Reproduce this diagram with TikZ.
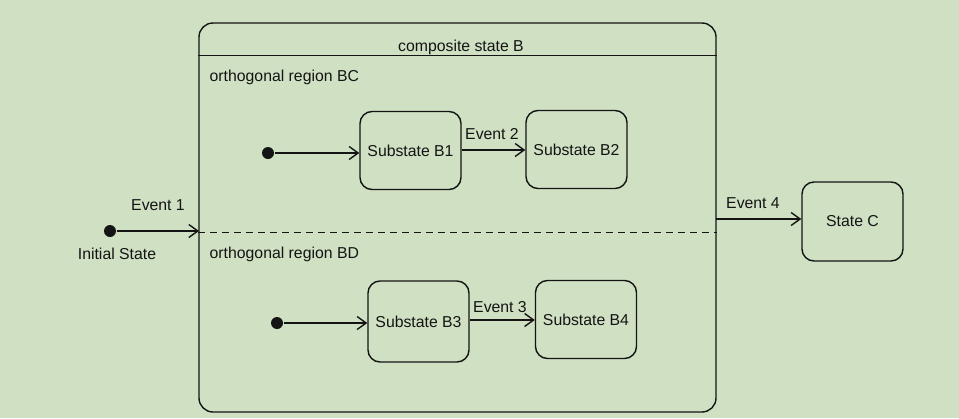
\documentclass[tikz,border=0pt]{standalone}
\usepackage{fontspec}
\setmainfont{Liberation Sans}
\usetikzlibrary{arrows.meta}
\definecolor{bg}{RGB}{207,224,195}
\definecolor{ink}{RGB}{20,20,20}
\begin{document}
\begin{tikzpicture}[x=1pt,y=-1pt, line width=1.4pt, draw=ink, text=ink,
 state/.style={draw, rounded corners=12pt, minimum width=101pt, minimum height=78pt, inner sep=0pt, font=\fontsize{15.8}{18}\selectfont},
 lbl/.style={font=\fontsize{15.8}{18}\selectfont, inner sep=0pt},
 dot/.style={circle, fill=ink, inner sep=0pt, minimum size=12pt},
 tr/.style={-{Straight Barb[length=9pt,width=13pt]}}]
\fill[bg] (0,0) rectangle (959,418);
\useasboundingbox (0,0) rectangle (959,418);
% composite state
\node[draw, rounded corners=14pt, minimum width=517pt, minimum height=389pt, inner sep=0pt] (B) at (457.5,217.5) {};
\draw ([yshift=-33pt]B.north west) -- ([yshift=-33pt]B.north east);
\draw[dashed, line width=1pt, dash pattern=on 7pt off 5pt] (B.west |- 0,232) -- (B.east |- 0,232);
\node[lbl] (title) at (461,47) {composite state B};
\node[lbl, anchor=west] (rbc) at (209,77) {orthogonal region BC};
\node[lbl, anchor=west] (rbd) at (209,254) {orthogonal region BD};
% outer initial
\node[dot] (init) at (110,231) {};
\node[lbl] (initlbl) at (117,254) {Initial State};
\coordinate (e1) at (199,231);
\draw[tr] (init) -- (e1);
\node[lbl] (ev1) at (158,205) {Event 1};
% region BC
\node[dot] (d1) at (268,153) {};
\node[state] (b1) at (410.5,150.5) {Substate B1};
\node[state] (b2) at (576.5,149.5) {Substate B2};
\draw[tr] (d1) -- (d1 -| b1.west);
\draw[tr] (b1.east |- 0,150) -- (b2.west |- 0,150);
\node[lbl] (ev2) at (492,134) {Event 2};
% region BD
\node[dot] (d2) at (277,323) {};
\node[state, minimum height=81pt] (b3) at (418.5,321.5) {Substate B3};
\node[state] (b4) at (586,319.5) {Substate B4};
\draw[tr] (d2) -- (d2 -| b3.west);
\draw[tr] (b3.east |- 0,320) -- (b4.west |- 0,320);
\node[lbl] (ev3) at (500,307) {Event 3};
% state C
\node[state, minimum height=79pt] (C) at (852.5,221.5) {State C};
\coordinate (e4) at (716,219);
\draw[tr] (e4) -- (e4 -| C.west);
\node[lbl] (ev4) at (753,203) {Event 4};
\end{tikzpicture}
\end{document}
